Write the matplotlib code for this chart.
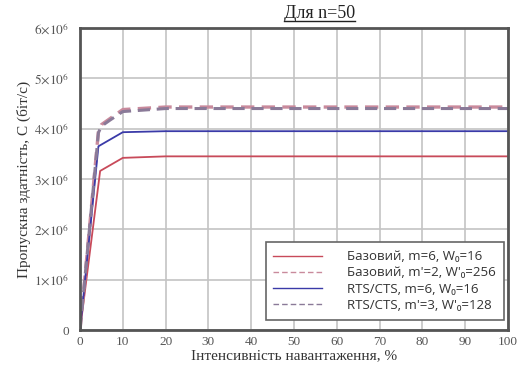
import matplotlib.pyplot as plt
from matplotlib.ticker import FuncFormatter

# load intensity, %
x_base = [0, 4.7, 10, 20, 30, 40, 50, 60, 70, 80, 90, 100]
x_rts = [0, 4.3, 10, 20, 30, 40, 50, 60, 70, 80, 90, 100]
x_dash = [0, 4.3, 5, 7, 10, 20, 30, 40, 50, 60, 70, 80, 90, 100]

# throughput, bit/s
base_m6 = [0, 3.16e6, 3.42e6, 3.45e6, 3.45e6, 3.45e6, 3.45e6, 3.45e6, 3.45e6, 3.45e6, 3.45e6, 3.45e6]
rts_m6 = [0, 3.65e6, 3.93e6, 3.95e6, 3.95e6, 3.95e6, 3.95e6, 3.95e6, 3.95e6, 3.95e6, 3.95e6, 3.95e6]
base_m2 = [0, 3.95e6, 4.08e6, 4.2e6, 4.38e6, 4.43e6, 4.43e6, 4.43e6, 4.43e6, 4.43e6, 4.43e6, 4.43e6, 4.43e6, 4.43e6]
rts_m3 = [0, 3.92e6, 4.05e6, 4.17e6, 4.34e6, 4.40e6, 4.40e6, 4.40e6, 4.40e6, 4.40e6, 4.40e6, 4.40e6, 4.40e6, 4.40e6]

labels = ["Базовий, m=6, W₀=16",
          "Базовий, m'=2, W'₀=256",
          "RTS/CTS, m=6, W₀=16",
          "RTS/CTS, m'=3, W'₀=128"]

plt.rcParams['mathtext.fontset'] = 'stix'
serif = ['Liberation Serif', 'DejaVu Serif']

fig = plt.figure(figsize=(5.21, 3.67), dpi=100)
ax = fig.add_axes([0.1536, 0.1008, 0.975 - 0.1536, 0.9237 - 0.1008])

ax.plot(x_base, base_m6, color='#c84a5a', lw=1.3, label=labels[0])
ax.plot(x_dash, base_m2, color='#c98a9c', lw=2.4, ls=(0, (4, 2.2)), label=labels[1])
ax.plot(x_rts, rts_m6, color='#3a3aa8', lw=1.3, label=labels[2])
ax.plot(x_dash, rts_m3, color='#8a7a98', lw=2.2, ls=(0, (4, 2.2)), label=labels[3])

ax.set_xlim(0, 100)
ax.set_ylim(0, 6e6)
ax.set_xticks(range(0, 101, 10))
ax.set_yticks([i * 1e6 for i in range(7)])


def yfmt(v, pos):
    n = int(round(v / 1e6))
    if n == 0:
        return '0'
    return r'$%d{\times}10^{6}$' % n


ax.yaxis.set_major_formatter(FuncFormatter(yfmt))
ax.tick_params(length=0, labelsize=9.5, labelcolor='#555555')
ax.tick_params(axis='y', pad=8)
ax.tick_params(axis='x', pad=4)
for lab in ax.get_xticklabels() + ax.get_yticklabels():
    lab.set_family(serif)

ax.grid(True, color='#c4c4c4', lw=1.2)
ax.set_axisbelow(True)
for s in ax.spines.values():
    s.set_color('#555555')
    s.set_linewidth(2)

ax.set_xlabel('Інтенсивність навантаження, %', family=serif, fontsize=11,
              color='#333333', labelpad=1)
ax.set_ylabel('Пропускна здатність, С (біт/с)', family=serif, fontsize=11,
              color='#333333', labelpad=2)
ttl = ax.set_title('Для n=50', family=serif, fontsize=13, color='#222222',
                   pad=7, x=0.56)

leg = ax.legend(loc='lower right', bbox_to_anchor=(1.0, 0.02),
                prop={'family': ['Open Sans', 'DejaVu Sans'], 'size': 9.5},
                handlelength=3.7, handletextpad=1.9, labelspacing=0.25,
                borderpad=0.6, borderaxespad=0.3, fancybox=False, framealpha=1)
leg.get_frame().set_edgecolor('#666666')
leg.get_frame().set_linewidth(1.2)
for t in leg.get_texts():
    t.set_color('#333333')
for ln in leg.get_lines():
    ln.set_linewidth(1.0)

# underline the title
fig.canvas.draw()
bb = ttl.get_window_extent().transformed(fig.transFigure.inverted())
fig.add_artist(plt.Line2D([bb.x0, bb.x1], [bb.y0 + 0.004, bb.y0 + 0.004],
                          color='#222222', lw=1.0))

fig.savefig('out.png', dpi=100)
